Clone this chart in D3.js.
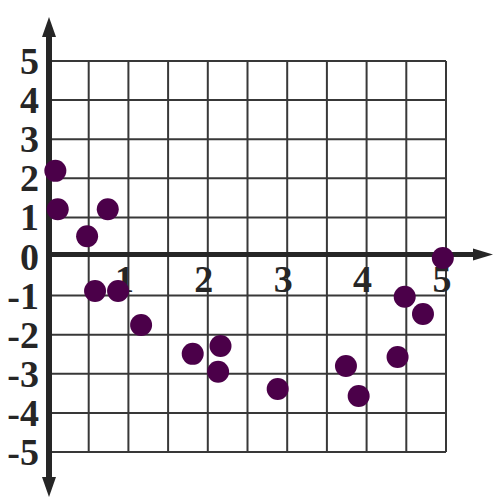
<!DOCTYPE html>
<html>
<head>
<meta charset="utf-8">
<script src="https://cdn.jsdelivr.net/npm/d3@7"></script>
<style>
  body { margin: 0; background: #fff; }
  svg { display: block; }
  .tick-label { font-family: "Liberation Serif", "DejaVu Serif", serif; font-weight: bold; font-size: 38px; fill: #262626; }
</style>
</head>
<body>
<svg id="chart"></svg>
<script>
// tick labels
var xTicks = [1, 2, 3, 4, 5];
var yTicks = [5, 4, 3, 2, 1, 0, -1, -2, -3, -4, -5];

// scatter values
var pointsX = [0.08, 0.11, 0.74, 0.48, 0.58, 0.87, 1.16, 1.81, 2.16, 2.13, 2.88, 3.74, 3.90, 4.39, 4.48, 4.71, 4.96];
var pointsY = [2.19, 1.21, 1.21, 0.52, -0.88, -0.88, -1.75, -2.49, -2.29, -2.95, -3.39, -2.80, -3.57, -2.57, -1.03, -1.47, -0.04];

var width = 500;
var height = 503;

var x = d3.scaleLinear().domain([0, 5]).range([49, 446]);
var y = d3.scaleLinear().domain([-5, 5]).range([452, 61]);

var svg = d3.select('#chart')
    .attr('width', width)
    .attr('height', height);

// grid
var grid = svg.append('g').attr('class', 'grid')
    .attr('stroke', '#383838')
    .attr('stroke-width', 2);

grid.selectAll('.vline')
    .data(d3.range(0.5, 5.01, 0.5))
    .enter().append('line')
    .attr('class', 'vline')
    .attr('x1', function (d) { return x(d); })
    .attr('x2', function (d) { return x(d); })
    .attr('y1', y(5))
    .attr('y2', y(-5));

grid.selectAll('.hline')
    .data(yTicks.filter(function (d) { return d !== 0; }))
    .enter().append('line')
    .attr('class', 'hline')
    .attr('x1', x(0))
    .attr('x2', x(5))
    .attr('y1', function (d) { return y(d); })
    .attr('y2', function (d) { return y(d); });

// axes with arrow heads
var axisColor = '#262626';
var y0 = y(0) - 2;

svg.append('line')
    .attr('x1', x(0)).attr('x2', 476)
    .attr('y1', y0).attr('y2', y0)
    .attr('stroke', axisColor).attr('stroke-width', 5);

svg.append('line')
    .attr('x1', x(0)).attr('x2', x(0))
    .attr('y1', 34).attr('y2', 480)
    .attr('stroke', axisColor).attr('stroke-width', 6);

svg.append('path')
    .attr('d', 'M' + x(0) + ',17 L' + (x(0) - 7) + ',37 L' + (x(0) + 7) + ',37 Z')
    .attr('fill', axisColor);
svg.append('path')
    .attr('d', 'M' + x(0) + ',497 L' + (x(0) - 7) + ',477 L' + (x(0) + 7) + ',477 Z')
    .attr('fill', axisColor);
svg.append('path')
    .attr('d', 'M493,' + y0 + ' L473,' + (y0 - 6) + ' L473,' + (y0 + 6) + ' Z')
    .attr('fill', axisColor);

// tick labels
svg.selectAll('.ylab')
    .data(yTicks)
    .enter().append('text')
    .attr('class', 'tick-label ylab')
    .attr('text-anchor', 'end')
    .attr('x', 39)
    .attr('y', function (d) { return y(d) + 13; })
    .text(function (d) { return d; });

svg.selectAll('.xlab')
    .data(xTicks)
    .enter().append('text')
    .attr('class', 'tick-label xlab')
    .attr('text-anchor', 'middle')
    .attr('x', function (d) { return x(d) - 4; })
    .attr('y', 292)
    .text(function (d) { return d; });

// points
svg.selectAll('.dot')
    .data(pointsX)
    .enter().append('circle')
    .attr('class', 'dot')
    .attr('cx', function (d) { return x(d); })
    .attr('cy', function (d, i) { return y(pointsY[i]); })
    .attr('r', 11)
    .attr('fill', '#4b0049');
</script>
</body>
</html>
